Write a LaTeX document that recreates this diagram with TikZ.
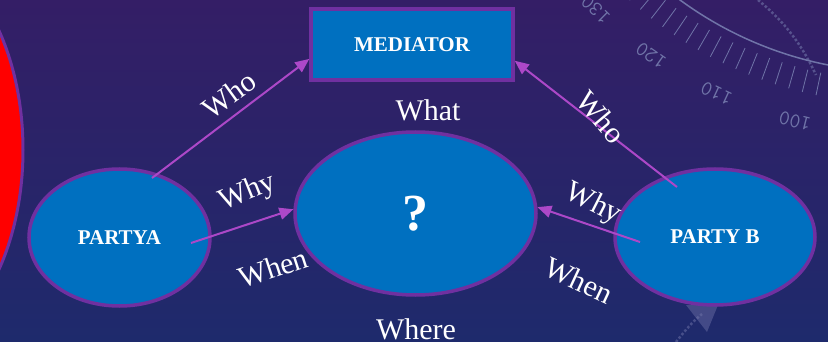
\documentclass[tikz,border=0pt]{standalone}
\usepackage{fontspec}
\setmainfont{Liberation Serif}
\usepackage{tikz}
\usetikzlibrary{calc,shapes.geometric,arrows.meta}

\definecolor{boxblue}{RGB}{0,112,192}
\definecolor{rimpurple}{RGB}{112,48,160}
\definecolor{arrowpurple}{RGB}{172,72,200}
\definecolor{bgtop}{RGB}{52,30,102}
\definecolor{bgbottom}{RGB}{30,42,108}
\definecolor{dialgray}{RGB}{112,116,168}

\begin{document}
\begin{tikzpicture}[x=1pt,y=-1pt,
        party/.style={ellipse,draw=rimpurple,line width=3.5pt,fill=boxblue,text=white,inner sep=0pt,
            font=\fontsize{21}{21}\selectfont\bfseries},
        link/.style={draw=arrowpurple,line width=2pt,-{Triangle[length=14pt,width=12pt]}},
        word/.style={text=white,inner sep=0pt,font=\fontsize{30}{30}\selectfont},
        dialnum/.style={text=dialgray,inner sep=0pt,font=\fontsize{21}{21}\selectfont\ttfamily}]
        \useasboundingbox (0,0) rectangle (828,342);
        \clip (0,0) rectangle (828,342);
        \shade[top color=bgtop,bottom color=bgbottom] (0,0) rectangle (828,342);
        %
        % dial in the background
        \coordinate (dial) at (900,-300);
        \draw[dialgray,line width=1.5pt] ($(dial)+(99:372)$) arc[start angle=99,end angle=132,radius=372];
        \foreach \a in {96,98,...,136}
            \draw[dialgray,line width=0.8pt] ($(dial)+(\a:381)$) -- ($(dial)+(\a:404)$);
        \foreach \n/\a in {100/104,110/115,120/125,130/134.5}
            \node[dialnum,rotate=270-\a] (num\n) at ($(dial)+(\a:434)$) {\n};
        \draw[dialgray,dotted,line width=2.5pt,opacity=0.6] (758,0) .. controls (785,22) and (802,45) .. (816,75);
        \draw[dialgray,dotted,line width=2.5pt,opacity=0.5] (676,342) .. controls (684,332) and (692,322) .. (702,314);
        \fill[dialgray,opacity=0.45] (686,305) -- (718,305) -- (707,332) -- cycle;
        %
        % red shape at the left edge
        \draw[draw=rimpurple,line width=3pt,fill=red] (-100,150) ellipse [x radius=123,y radius=201];
        %
        \node[draw=rimpurple,line width=3.5pt,fill=boxblue,text=white,inner sep=0pt,
            minimum width=202pt,minimum height=71pt,font=\fontsize{21}{21}\selectfont\bfseries] (med) at (412,44.5) {MEDIATOR};
        \node[party,minimum width=181pt,minimum height=137pt] (pa) at (119.5,237.5) {PARTYA};
        \node[party,minimum width=200pt,minimum height=136pt] (pb) at (715,237) {PARTY B};
        \node[party,minimum width=241pt,minimum height=163pt,font=\fontsize{52}{52}\selectfont\bfseries] (q) at (415.5,213.5) {?};
        %
        \coordinate (paWho) at (152,178);
        \coordinate (paWhy) at (191,243);
        \coordinate (pbWho) at (677,187);
        \coordinate (pbWhy) at (640,242);
        \draw[link] (paWho) -- (med.188.6);
        \draw[link] (pbWho) -- (med.351.4);
        \draw[link] (paWhy) -- (q.178);
        \draw[link] (pbWhy) -- (q.3);
        %
        \node[word,rotate=36] (whoA) at (229,95) {Who};
        \node[word,rotate=-50] (whoB) at (601,117) {Who};
        \node[word] (what) at (428,110.5) {What};
        \node[word,rotate=22] (whyA) at (248,193) {Why};
        \node[word,rotate=18] (whenA) at (273,268) {When};
        \node[word,rotate=-27] (whyB) at (593,204) {Why};
        \node[word,rotate=-25] (whenB) at (579,280) {When};
        \node[word] (where) at (416,329) {Where};
    \end{tikzpicture}
\end{document}
